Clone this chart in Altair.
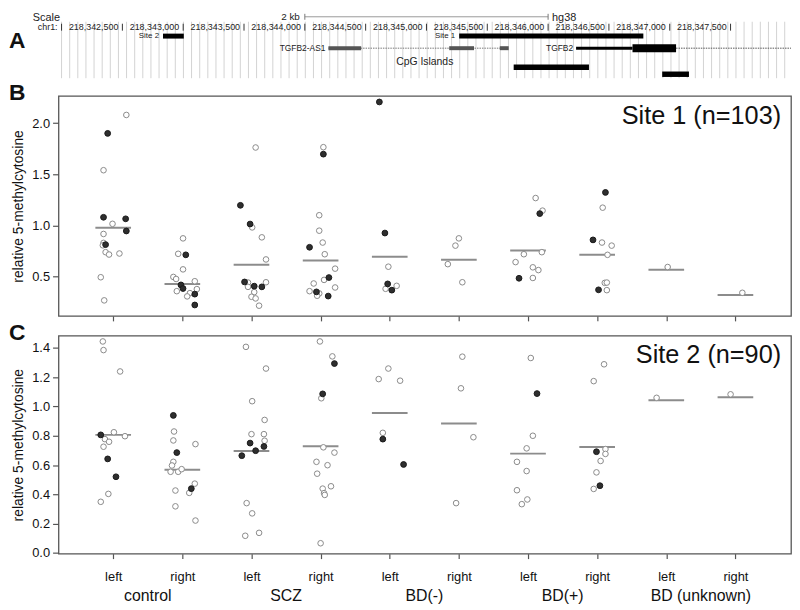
import altair as alt
import pandas as pd

FONT = "Liberation Sans"

# ---------------- Panel A: UCSC-style track (hg38, chr1) ----------------
BP_DOMAIN = [218341975, 218347997]
ruler_pos = [218342000, 218342500, 218343000, 218343500, 218344000, 218344500,
             218345000, 218345500, 218346000, 218346500, 218347000, 218347500]
ruler_lab = ["chr1:", "218,342,500", "218,343,000", "218,343,500", "218,344,000",
             "218,344,500", "218,345,000", "218,345,500", "218,346,000",
             "218,346,500", "218,347,000", "218,347,500"]
scale_bar = [218344000, 218346000]
site_names = ["Site 2", "Site 1"]
site_start = [218342834, 218345269]
site_end = [218343005, 218346783]
as1_exon_start = [218344194, 218345187, 218345603]
as1_exon_end = [218344463, 218345391, 218345676]
tgfb2_utr = [218346230, 218346694]
tgfb2_cds = [218346694, 218347052]
tgfb2_end = 218444619
cpg_start = [218345717, 218346938]
cpg_end = [218346336, 218347158]
GUIDE_STEP = 66.8  # spacing of browser guide lines (bp)

# ---------------- Panels B / C: data ----------------
GROUPS = ["control", "SCZ", "BD(-)", "BD(+)", "BD (unknown)"]
SIDES = ["left", "right"]

# Site 1: values per category (control-left, control-right, SCZ-left, ...)
s1_vals = [
    [2.08, 1.90, 1.54, 1.08, 1.065, 1.016, 0.946, 0.917, 0.83, 0.806, 0.813, 0.739, 0.716, 0.726, 0.494, 0.268],
    [0.874, 0.723, 0.713, 0.571, 0.497, 0.477, 0.419, 0.455, 0.384, 0.378, 0.358, 0.339, 0.307, 0.329, 0.223],
    [1.762, 1.197, 1.014, 0.981, 0.884, 0.668, 0.448, 0.442, 0.445, 0.407, 0.40, 0.40, 0.349, 0.303, 0.287, 0.216],
    [1.765, 1.697, 1.10, 0.949, 0.787, 0.833, 0.719, 0.578, 0.491, 0.468, 0.433, 0.394, 0.358, 0.351, 0.336, 0.313, 0.31],
    [2.207, 0.926, 0.597, 0.429, 0.41, 0.381, 0.368],
    [0.874, 0.803, 0.622, 0.445],
    [1.268, 1.145, 1.116, 0.719, 0.739, 0.642, 0.591, 0.564, 0.484, 0.487],
    [1.323, 1.174, 0.859, 0.833, 0.803, 0.713, 0.439, 0.442, 0.371, 0.368],
    [0.594],
    [0.342],
]
s1_fill = [
    [0, 1, 0, 1, 1, 0, 1, 0, 0, 0, 1, 0, 0, 0, 0, 0],
    [0, 0, 1, 0, 0, 0, 1, 0, 1, 0, 0, 0, 0, 1, 1],
    [0, 1, 1, 0, 0, 0, 1, 0, 0, 1, 1, 0, 0, 0, 0, 0],
    [0, 1, 0, 0, 1, 0, 0, 0, 1, 0, 0, 0, 0, 1, 0, 0, 1],
    [1, 1, 0, 1, 0, 0, 1],
    [0, 0, 0, 0],
    [0, 0, 1, 0, 0, 0, 0, 0, 1, 0],
    [1, 0, 1, 0, 0, 0, 0, 0, 1, 0],
    [0],
    [0],
]
s1_jit = [
    [0.19, -0.08, -0.14, -0.14, 0.18, -0.01, 0.19, -0.14, -0.14, -0.15, -0.11, -0.11, -0.06, 0.09, -0.18, -0.13],
    [0.01, -0.06, 0.05, 0.01, -0.13, -0.09, -0.02, 0.18, 0.01, 0.21, -0.08, 0.11, 0.07, 0.18, 0.18],
    [0.06, -0.16, -0.02, 0.01, 0.15, 0.21, -0.10, -0.05, 0.21, 0.04, 0.15, -0.05, 0.04, 0.00, 0.06, 0.11],
    [0.04, 0.04, -0.02, -0.02, -0.16, 0.03, 0.06, 0.21, 0.12, 0.05, -0.10, 0.21, -0.16, -0.06, -0.02, -0.05, 0.11],
    [-0.15, -0.07, -0.02, -0.03, 0.10, -0.06, 0.03],
    [0.00, -0.05, -0.16, 0.05],
    [0.11, 0.21, 0.17, -0.06, 0.20, -0.18, 0.07, 0.15, -0.13, 0.07],
    [0.12, 0.08, -0.06, 0.07, 0.21, 0.15, 0.11, 0.14, 0.02, 0.14],
    [0.02],
    [0.10],
]
s1_median = [0.978, 0.429, 0.617, 0.658, 0.694, 0.665, 0.755, 0.713, 0.568, 0.32]

# Site 2
s2_vals = [
    [1.444, 1.385, 1.239, 0.806, 0.824, 0.797, 0.777, 0.759, 0.725, 0.642, 0.52, 0.403, 0.349],
    [0.939, 0.829, 0.768, 0.685, 0.743, 0.622, 0.597, 0.554, 0.554, 0.572, 0.473, 0.439, 0.41, 0.426, 0.318, 0.221],
    [1.407, 1.259, 1.036, 0.908, 0.811, 0.811, 0.766, 0.75, 0.727, 0.698, 0.664, 0.34, 0.27, 0.137, 0.117],
    [1.444, 1.342, 1.293, 1.086, 1.056, 0.721, 0.685, 0.622, 0.599, 0.541, 0.439, 0.455, 0.408, 0.396, 0.066],
    [1.259, 1.187, 1.176, 0.82, 0.777, 0.604],
    [1.34, 1.124, 0.79, 0.34],
    [1.331, 1.088, 0.80, 0.714, 0.622, 0.559, 0.428, 0.365, 0.333],
    [1.288, 1.173, 0.709, 0.691, 0.676, 0.628, 0.55, 0.459, 0.437],
    [1.059],
    [1.083],
]
s2_fill = [
    [0, 0, 0, 1, 0, 0, 0, 0, 0, 1, 1, 0, 0],
    [1, 0, 0, 1, 0, 0, 0, 0, 0, 0, 0, 1, 0, 0, 0, 0],
    [0, 0, 0, 0, 0, 0, 0, 1, 1, 1, 1, 0, 0, 0, 0],
    [0, 0, 1, 1, 0, 0, 0, 0, 0, 0, 0, 0, 0, 0, 0],
    [0, 0, 0, 0, 1, 1],
    [0, 0, 0, 0],
    [0, 1, 0, 0, 0, 0, 0, 0, 0],
    [0, 0, 0, 1, 0, 0, 0, 1, 0],
    [0],
    [0],
]
s2_jit = [
    [-0.15, -0.14, 0.10, -0.18, 0.01, 0.17, -0.12, -0.06, -0.14, -0.08, 0.04, -0.07, -0.18],
    [-0.13, -0.12, -0.13, -0.08, 0.19, -0.13, -0.15, -0.17, -0.06, -0.01, 0.18, 0.13, 0.10, -0.10, -0.10, 0.19],
    [-0.08, 0.21, 0.01, 0.19, 0.00, 0.18, 0.19, -0.02, 0.18, 0.06, -0.14, -0.07, 0.01, 0.11, -0.09],
    [-0.01, 0.17, 0.20, 0.03, 0.01, 0.04, 0.20, -0.06, 0.10, -0.05, 0.03, 0.15, 0.05, 0.06, 0.00],
    [-0.02, -0.16, 0.15, -0.10, -0.10, 0.20],
    [0.05, 0.03, 0.21, -0.04],
    [0.04, 0.13, 0.07, -0.02, -0.16, -0.02, -0.16, -0.01, -0.09],
    [0.10, -0.05, 0.12, -0.01, 0.12, 0.05, -0.01, 0.04, -0.05],
    [-0.14],
    [-0.07],
]
s2_median = [0.806, 0.568, 0.696, 0.728, 0.955, 0.883, 0.678, 0.723, 1.043, 1.063]

# ---------------- layout constants ----------------
W = 739.5
HA = 65
HB = 222
HC = 220
X_DOMAIN = [-0.791, 9.804]
LETTER_X = -50

one = pd.DataFrame({"k": [0]})


def letter(ch, y):
    return alt.Chart(one).mark_text(text=ch, fontSize=23, fontWeight="bold", align="left",
                                    baseline="middle", color="#111").encode(
        x=alt.value(LETTER_X), y=alt.value(y))


# ---------------- Panel A ----------------
xa = alt.Scale(domain=BP_DOMAIN, nice=False, zero=False)
ya = alt.Scale(domain=[0, HA], reverse=True, nice=False, zero=False)


def XA(f):
    return alt.X(f"{f}:Q", scale=xa, axis=None)


def YA(f):
    return alt.Y(f"{f}:Q", scale=ya, axis=None)


ROW_SCALE_TOP, ROW_SCALE_BAR = 0, 5
ROW_RULER, ROW_SITE, ROW_GENE, ROW_CPGL = 15.5, 24.5, 36.7, 51
ROW_CPG = [56, 63]
GUIDE_Y = [10, 67]

guides = [BP_DOMAIN[0] + 25 + GUIDE_STEP * k for k in range(200)]
guides = [g for g in guides if g < BP_DOMAIN[1]]
guide_df = pd.DataFrame({"pos": guides, "y0": GUIDE_Y[0], "y1": GUIDE_Y[1]})
g_lines = alt.Chart(guide_df).mark_rule(color="#d2d2d2", strokeWidth=1).encode(
    x=XA("pos"), y=YA("y0"), y2="y1")

ruler_df = pd.DataFrame({"pos": ruler_pos, "lab": ruler_lab, "row": ROW_RULER,
                         "t0": ROW_RULER - 3.5, "t1": ROW_RULER + 3.5})
r_ticks = alt.Chart(ruler_df).mark_rule(color="#333", strokeWidth=1).encode(
    x=XA("pos"), y=YA("t0"), y2="t1")
r_text = alt.Chart(ruler_df).mark_text(align="right", baseline="middle", dx=-4,
                                       fontSize=9, color="#222").encode(
    x=XA("pos"), y=YA("row"), text="lab:N")

sb_df = pd.DataFrame({"a": [scale_bar[0]], "b": [scale_bar[1]], "row": [ROW_SCALE_BAR],
                      "top": [ROW_SCALE_TOP]})
sb_line = alt.Chart(sb_df).mark_rule(color="#999", strokeWidth=1).encode(
    x=XA("a"), x2="b", y=YA("row"))
sb_tick_df = pd.DataFrame({"pos": scale_bar, "t0": ROW_SCALE_BAR - 3, "t1": ROW_SCALE_BAR + 3})
sb_ticks = alt.Chart(sb_tick_df).mark_rule(color="#777", strokeWidth=1).encode(
    x=XA("pos"), y=YA("t0"), y2="t1")
sb_kb = alt.Chart(sb_df).mark_text(text="2 kb", align="right", baseline="top", dx=-5,
                                   fontSize=10, color="#222").encode(x=XA("a"), y=YA("top"))
sb_hg = alt.Chart(sb_df).mark_text(text="hg38", align="left", baseline="top", dx=4,
                                   fontSize=11, color="#222").encode(x=XA("b"), y=YA("top"))
scale_lbl = alt.Chart(one).mark_text(text="Scale", align="left", baseline="top",
                                     fontSize=11, color="#222").encode(
    x=alt.value(-26), y=alt.value(ROW_SCALE_TOP))

site_df = pd.DataFrame({"name": site_names, "a": site_start, "b": site_end, "row": ROW_SITE})
site_bars = alt.Chart(site_df).mark_rule(color="#000", strokeWidth=5).encode(
    x=XA("a"), x2="b", y=YA("row"))
site_text = alt.Chart(site_df).mark_text(align="right", baseline="middle", dx=-4,
                                         fontSize=8, color="#222").encode(
    x=XA("a"), y=YA("row"), text="name:N")

as1_intron = pd.DataFrame({"a": [as1_exon_start[0]], "b": [as1_exon_end[-1]], "row": [ROW_GENE]})
as1_line = alt.Chart(as1_intron).mark_rule(color="#777", strokeWidth=1, strokeDash=[1.5, 1]).encode(
    x=XA("a"), x2="b", y=YA("row"))
as1_df = pd.DataFrame({"a": as1_exon_start, "b": as1_exon_end, "row": ROW_GENE})
as1_ex = alt.Chart(as1_df).mark_rule(color="#555", strokeWidth=4).encode(
    x=XA("a"), x2="b", y=YA("row"))
as1_lbl = alt.Chart(as1_df.head(1)).mark_text(text="TGFB2-AS1", align="right", baseline="middle",
                                              dx=-3, fontSize=8.5, color="#222").encode(
    x=XA("a"), y=YA("row"))

tg_intron = pd.DataFrame({"a": [tgfb2_cds[1]], "b": [tgfb2_end], "row": [ROW_GENE]})
tg_line = alt.Chart(tg_intron).mark_rule(color="#555", strokeWidth=1, strokeDash=[1.5, 1],
                                         clip=True).encode(x=XA("a"), x2="b", y=YA("row"))
tg_utr_df = pd.DataFrame({"a": [tgfb2_utr[0]], "b": [tgfb2_utr[1]], "row": [ROW_GENE]})
tg_utr = alt.Chart(tg_utr_df).mark_rule(color="#000", strokeWidth=3).encode(
    x=XA("a"), x2="b", y=YA("row"))
tg_cds_df = pd.DataFrame({"a": [tgfb2_cds[0]], "b": [tgfb2_cds[1]], "row": [ROW_GENE]})
tg_cds = alt.Chart(tg_cds_df).mark_rule(color="#000", strokeWidth=8).encode(
    x=XA("a"), x2="b", y=YA("row"))
tg_lbl = alt.Chart(tg_utr_df).mark_text(text="TGFB2", align="right", baseline="middle", dx=-3,
                                        fontSize=8.5, color="#222").encode(x=XA("a"), y=YA("row"))

cpg_df = pd.DataFrame({"a": cpg_start, "b": cpg_end, "row": ROW_CPG})
cpg_bars = alt.Chart(cpg_df).mark_rule(color="#000", strokeWidth=5.5).encode(
    x=XA("a"), x2="b", y=YA("row"))
cpg_lbl = alt.Chart(one).mark_text(text="CpG Islands", align="center", baseline="middle",
                                   fontSize=10.5, color="#222").encode(
    x=alt.value(W / 2), y=alt.value(ROW_CPGL))

panelA = alt.layer(
    g_lines, r_ticks, r_text, sb_line, sb_ticks, sb_kb, sb_hg, scale_lbl,
    site_bars, site_text, as1_line, as1_ex, as1_lbl, tg_line, tg_utr, tg_cds, tg_lbl,
    cpg_bars, cpg_lbl, letter("A", 30)
).properties(width=W, height=HA, view=alt.ViewBackground(stroke="transparent"))


# ---------------- Panels B / C ----------------
def site_panel(vals, fills, jits, medians, ydom, yvals, label, let, height, show_x_labels):
    rows = []
    for c in range(10):
        for v, f, j in zip(vals[c], fills[c], jits[c]):
            rows.append({"pos": c + j, "value": v, "filled": f})
    pts = pd.DataFrame(rows)
    med = pd.DataFrame({"pos": list(range(10)), "value": medians})

    xs = alt.Scale(domain=X_DOMAIN, nice=False, zero=False)
    ys = alt.Scale(domain=ydom, nice=False, zero=False)
    xkw = dict(values=list(range(10)), grid=False, domain=False, ticks=True, tickSize=5,
               tickColor="#555", tickWidth=1.2, title=None, labels=show_x_labels)
    if show_x_labels:
        xkw.update(labelExpr="datum.value % 2 == 0 ? 'left' : 'right'", labelFontSize=13,
                   labelPadding=12, labelColor="#111")
    xaxis = alt.Axis(**xkw)
    yaxis = alt.Axis(values=yvals, format=".1f", grid=False, domain=False, tickSize=6,
                     tickColor="#555", tickWidth=1.2, labelFontSize=13, labelPadding=3,
                     labelColor="#111", title="relative 5-methylcytosine", titleFontSize=14,
                     titleFontWeight="normal", titleColor="#111", titlePadding=6)
    X = alt.X("pos:Q", scale=xs, axis=xaxis)
    Y = alt.Y("value:Q", scale=ys, axis=yaxis)

    medl = alt.Chart(med).mark_tick(orient="horizontal", size=36, thickness=2,
                                    color="#8c8c8c", opacity=1).encode(x=X, y=Y)
    openp = alt.Chart(pts).transform_filter("datum.filled == 0").mark_point(
        shape="circle", filled=True, fill="white", stroke="#8a8a8a", strokeWidth=1,
        size=32, opacity=1).encode(x=X, y=Y)
    fillp = alt.Chart(pts).transform_filter("datum.filled == 1").mark_point(
        shape="circle", filled=True, fill="#2e2e2e", stroke="#1a1a1a", strokeWidth=1,
        size=34, opacity=1).encode(x=X, y=Y)
    site_lbl = alt.Chart(one).mark_text(text=label, align="right", baseline="alphabetic",
                                        fontSize=25.5, color="#111").encode(
        x=alt.value(W - 10), y=alt.value(28))
    layers = [medl, openp, fillp, site_lbl, letter(let, -3)]
    if show_x_labels:
        gdf = pd.DataFrame({"group": GROUPS, "pos": [2 * i + 0.5 for i in range(len(GROUPS))]})
        glbl = alt.Chart(gdf).mark_text(baseline="middle", fontSize=16, color="#111").encode(
            x=alt.X("pos:Q", scale=xs, axis=xaxis), y=alt.value(height + 43), text="group:N")
        layers.append(glbl)
    return alt.layer(*layers).properties(width=W, height=height)


panelB = site_panel(s1_vals, s1_fill, s1_jit, s1_median, [0.116, 2.265],
                    [0.5, 1.0, 1.5, 2.0], "Site 1 (n=103)", "B", HB, False)
panelC = site_panel(s2_vals, s2_fill, s2_jit, s2_median, [-0.005, 1.483],
                    [0.0, 0.2, 0.4, 0.6, 0.8, 1.0, 1.2, 1.4], "Site 2 (n=90)", "C", HC, True)

chart = alt.vconcat(panelA, panelB, panelC, spacing=20, bounds="flush").properties(
    padding=0
).configure_view(stroke="#555", strokeWidth=1.3).configure_axis(
    labelFont=FONT, titleFont=FONT
).configure_text(font=FONT)

chart.save("out.html", embed_options={"renderer": "svg", "actions": False})
